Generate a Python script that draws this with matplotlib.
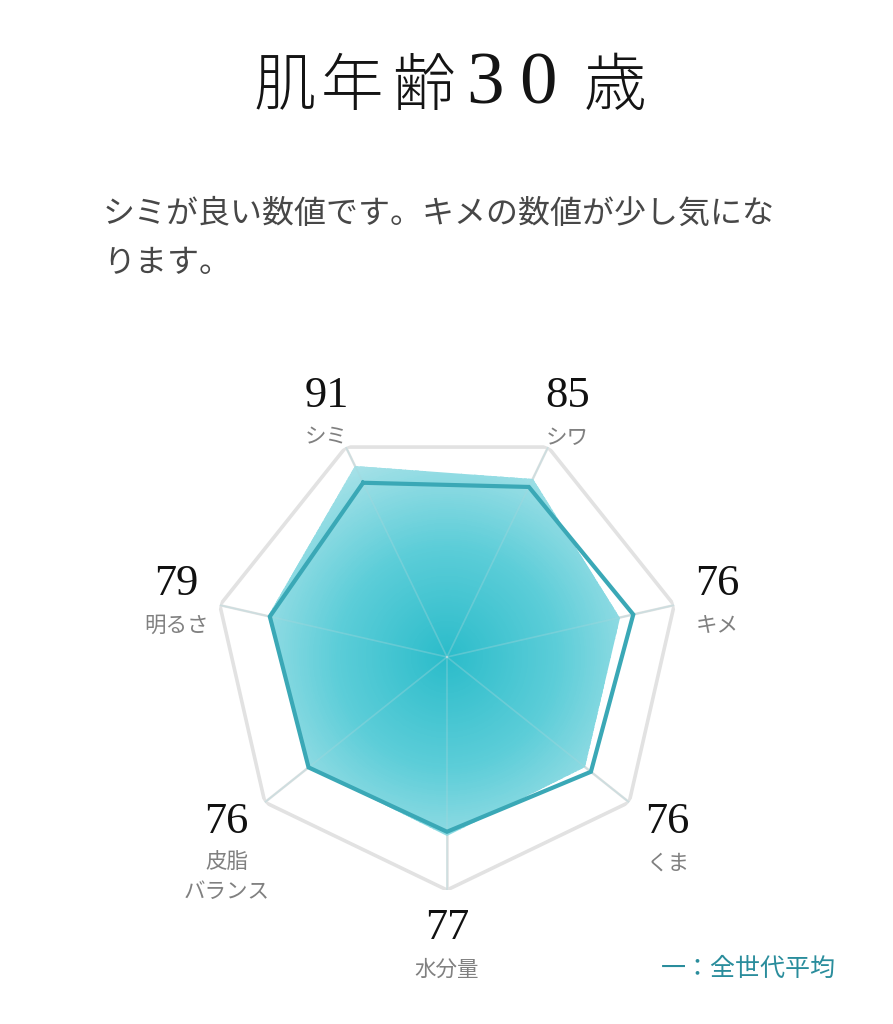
import numpy as np
import matplotlib
matplotlib.use('Agg')
import matplotlib.pyplot as plt
from matplotlib.colors import LinearSegmentedColormap
from matplotlib.patches import Polygon

plt.rcParams['font.family'] = ['Noto Sans CJK JP', 'DejaVu Sans']

# data
labels = ['シミ', 'シワ', 'キメ', 'くま', '水分量', '皮脂\nバランス', '明るさ']
scores = [91, 85, 76, 76, 77, 76, 79]
average = [83, 81, 82, 79, 75, 76, 78]
title_chars = ['肌', '年', '齢', '3', '0', '歳']
comment = 'シミが良い数値です。キメの数値が少し気にな\nります。'
legend_text = '一：全世代平均'

n = len(labels)
start = np.pi / 2 + np.pi / n          # first axis just left of top
theta = start - 2 * np.pi * np.arange(n) / n
theta_c = np.append(theta, theta[0])

fig = plt.figure(figsize=(8.93, 10.24), dpi=100)
W, H = 893, 1024
cx, cy, R = 447, 657, 233
ax = fig.add_axes([(cx - R) / W, (H - cy - R) / H, 2 * R / W, 2 * R / H], projection='polar')
ax.set_ylim(0, 100)
ax.axis('off')

grid_c = '#e2e2e2'
# outer ring and spokes
ax.plot(theta_c, [100] * (n + 1), color=grid_c, lw=2.6, zorder=1, solid_joinstyle='miter')
for t in theta:
    ax.plot([t, t], [0, 100], color=grid_c, lw=1.8, zorder=1)

# gradient filled score polygon
xy = np.column_stack([theta_c, np.append(scores, scores[0])])
poly = Polygon(xy, closed=True, transform=ax.transData, facecolor='none', edgecolor='none')
ax.add_patch(poly)
cmap = LinearSegmentedColormap.from_list('skin', ['#2bbcca', '#5ccdd8', '#ade3e9'])
tg, rg = np.meshgrid(np.linspace(0, 2 * np.pi, 361), np.linspace(0, 100, 120))
mesh = ax.pcolormesh(tg, rg, rg, cmap=cmap, vmin=0, vmax=95, shading='auto', zorder=2)
mesh.set_clip_path(poly)

# spokes showing faintly through the fill
for t in theta:
    ax.plot([t, t], [0, 100], color='#a6d6db', lw=1.2, alpha=0.35, zorder=3)

# average line
ax.plot(theta_c, np.append(average, average[0]), color='#3aa8b6', lw=3, zorder=4,
        solid_joinstyle='miter')

# value + label texts
for t, lab, s in zip(theta, labels, scores):
    r_anchor = 119 if np.sin(t) > 0 else 121
    ax.annotate(str(s), xy=(t, r_anchor), xytext=(0, 8), textcoords='offset points',
                ha='center', va='center', fontsize=32, family='Liberation Serif',
                color='#111111', annotation_clip=False)
    ax.annotate(lab, xy=(t, r_anchor), xytext=(0, -14), textcoords='offset points',
                ha='center', va='top', fontsize=15.5, color='#808080',
                linespacing=1.4, annotation_clip=False)

# title, drawn glyph by glyph for the wide letter spacing
title_x = [285, 352, 423, 485, 538, 615]
for ch, x in zip(title_chars, title_x):
    if ch.isdigit():
        fig.text(x / W, 1 - 86 / H, ch, ha='center', va='center', fontsize=54,
                 family='Liberation Serif', color='#141414')
    else:
        fig.text(x / W, 1 - 88 / H, ch, ha='center', va='center', fontsize=45,
                 color='#141414', fontweight='light')

fig.text(103 / W, 1 - 238 / H, comment, ha='left', va='center', fontsize=23,
         color='#474747', linespacing=1.68)
fig.text(836 / W, 1 - 969 / H, legend_text, ha='right', va='center', fontsize=18,
         color='#2a8d9c')

fig.savefig('out.png', dpi=100, facecolor='white')
